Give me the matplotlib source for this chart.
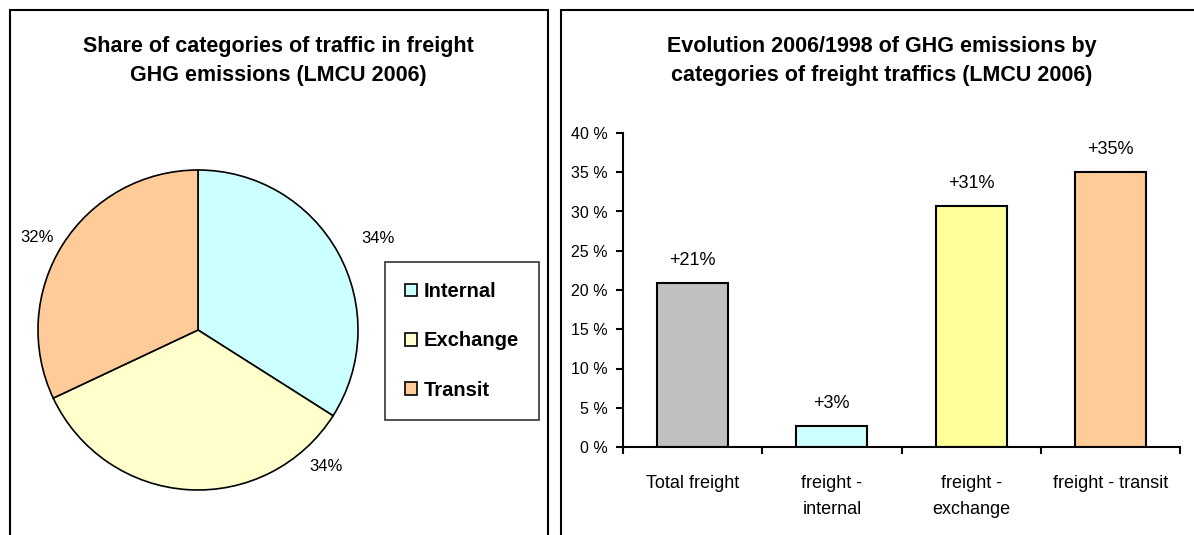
import matplotlib.pyplot as plt
import numpy as np
from matplotlib.patches import Rectangle

plt.rcParams['font.family'] = ['Liberation Sans', 'DejaVu Sans']

# pie data
pie_names = ['Internal', 'Exchange', 'Transit']
pie_shares = [34, 34, 32]
pie_colors = ['#CCFFFF', '#FFFFCC', '#FFCC99']

# bar data
bar_names = ['Total freight', 'freight -\ninternal', 'freight -\nexchange', 'freight - transit']
bar_values = [20.9, 2.7, 30.7, 35.0]
bar_texts = ['+21%', '+3%', '+31%', '+35%']
bar_colors = ['#C0C0C0', '#CCFFFF', '#FFFF99', '#FFCC99']

W, H = 1194, 535
fig = plt.figure(figsize=(W / 100, H / 100), dpi=100)

def px(l, t, w, h):
    return [l / W, 1 - (t + h) / H, w / W, h / H]

# panel frames
fig.patches.append(Rectangle((10 / W, -0.1), 538 / W, 1 - 10 / H + 0.1, transform=fig.transFigure,
                             fill=False, ec='black', lw=1.5))
fig.patches.append(Rectangle((561 / W, -0.1), 700 / W, 1 - 10 / H + 0.1, transform=fig.transFigure,
                             fill=False, ec='black', lw=1.5))

fig.text(278 / W, 1 - 61 / H, 'Share of categories of traffic in freight\nGHG emissions (LMCU 2006)',
         ha='center', va='center', fontsize=15.5, fontweight='bold', linespacing=1.55)
fig.text(882 / W, 1 - 61 / H, 'Evolution 2006/1998 of GHG emissions by\ncategories of freight traffics (LMCU 2006)',
         ha='center', va='center', fontsize=15.5, fontweight='bold', linespacing=1.55)

# pie
ax1 = fig.add_axes(px(38, 170, 320, 320))
wedges, _ = ax1.pie(pie_shares, colors=pie_colors, startangle=90, counterclock=False,
                    wedgeprops=dict(edgecolor='black', linewidth=1.2))
ax1.set_xlim(-1, 1)
ax1.set_ylim(-1, 1)
ax1.set_aspect('equal')
label_angles = [27, -47, 150]
label_r = [1.26, 1.17, 1.16]
for share, ang, r in zip(pie_shares, label_angles, label_r):
    a = np.radians(ang)
    ax1.text(r * np.cos(a), r * np.sin(a), f'{share}%', ha='center', va='center', fontsize=12)

leg = fig.legend(wedges, pie_names, loc='upper left', bbox_to_anchor=(385 / W, 1 - 262 / H),
                 prop=dict(size=14.5, weight='bold'), frameon=True, fancybox=False, edgecolor='black',
                 handlelength=0.6, handleheight=0.6, handletextpad=0.3, labelspacing=1.5,
                 borderpad=1.0, borderaxespad=0)
leg.get_frame().set_linewidth(1.2)

# bars
ax2 = fig.add_axes(px(623, 133, 557, 314))
x = np.arange(len(bar_values))
bars = ax2.bar(x, bar_values, width=0.51, color=bar_colors, edgecolor='black', linewidth=1.5)
for b, t in zip(bars, bar_texts):
    ax2.annotate(t, (b.get_x() + b.get_width() / 2, b.get_height()), xytext=(0, 10),
                 textcoords='offset points', ha='center', va='bottom', fontsize=13)
ax2.set_xlim(-0.5, len(bar_values) - 0.5)
ax2.set_ylim(0, 40)
ax2.set_yticks(range(0, 41, 5))
ax2.set_yticklabels([f'{v} %' for v in range(0, 41, 5)], fontsize=11.5)
ax2.set_xticks(x)
ax2.set_xticklabels(bar_names, fontsize=13, linespacing=1.7, va='top')
ax2.tick_params(axis='x', length=0, pad=20)
ax2.set_xticks(np.arange(-0.5, len(bar_values)), minor=True)
ax2.tick_params(axis='x', which='minor', length=5, width=1.5)
ax2.tick_params(axis='y', length=5, width=1.5, pad=6)
ax2.spines['top'].set_visible(False)
ax2.spines['right'].set_visible(False)
ax2.spines['left'].set_linewidth(1.5)
ax2.spines['bottom'].set_linewidth(1.5)

fig.savefig('out.png', dpi=100)
